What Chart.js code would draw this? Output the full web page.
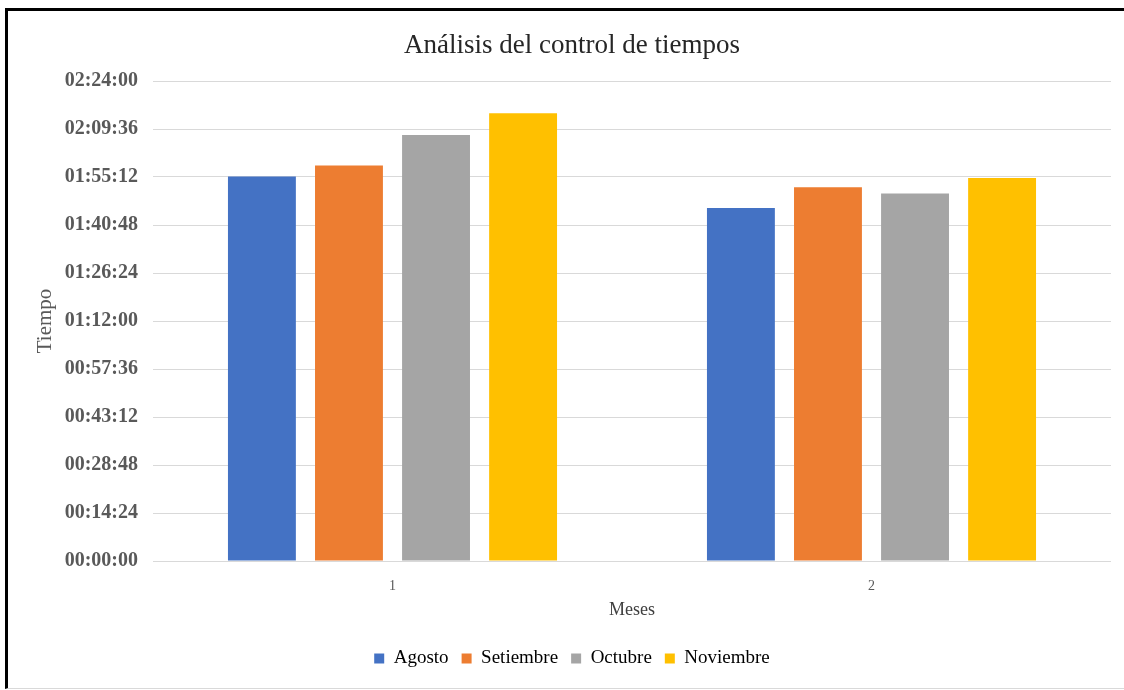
<!DOCTYPE html>
<html>
<head>
<meta charset="utf-8">
<script src="https://cdn.jsdelivr.net/npm/chart.js@4/dist/chart.umd.min.js"></script>
<style>
  body{margin:0;background:#fff;}
  #frame{position:absolute;left:5px;top:8px;width:1122px;height:677px;border-top:3px solid #000;border-left:3px solid #000;border-bottom:1px solid #d9d9d9;}
  #box{position:absolute;left:0;top:0;width:1124px;height:690px;}
</style>
</head>
<body>
<div id="frame"></div>
<div id="box"><canvas id="myChart" width="1124" height="690"></canvas></div>
<script>
// meses (categorias del eje x)
var meses = ['1', '2'];
// tiempos en segundos
var agosto = [6920, 6352];
var setiembre = [7118, 6726];
var octubre = [7666, 6617];
var noviembre = [8058, 6894];

var nombres = ['Agosto', 'Setiembre', 'Octubre', 'Noviembre'];
var colores = ['#4472C4', '#ED7D31', '#A5A5A5', '#FFC000'];
var series = [agosto, setiembre, octubre, noviembre];

function hms(s){
  var h = Math.floor(s/3600), m = Math.floor((s%3600)/60), sec = Math.round(s%60);
  return [h,m,sec].map(function(v){return (v<10?'0':'')+v;}).join(':');
}

var data = [];
for (let i=0; i<series.length; i++){
  data.push({
    label: nombres[i],
    data: series[i],
    backgroundColor: colores[i],
    borderWidth: 0,
    categoryPercentage: 0.727,
    barPercentage: 0.78
  });
}

var serif = "'Liberation Serif', 'Times New Roman', serif";
var ctx = document.getElementById('myChart');
var myChart = new Chart(ctx, {
  type: 'bar',
  data: { labels: meses, datasets: data },
  options: {
    responsive: false,
    animation: false,
    layout: { padding: { left: 33, right: 13, top: 20, bottom: 12 } },
    plugins: {
      title: {
        display: true,
        text: 'Análisis del control de tiempos',
        color: '#262626',
        font: { family: serif, size: 27, weight: 'normal' },
        padding: { top: 9.4, bottom: 19.2 }
      },
      legend: {
        position: 'bottom',
        labels: {
          color: '#000',
          font: { family: serif, size: 19 },
          boxWidth: 10,
          boxHeight: 10,
          padding: 13
        }
      },
      tooltip: { enabled: false }
    },
    scales: {
      x: {
        afterFit: function(scale){ scale.height = 75; },
        grid: { display: false, drawTicks: false },
        border: { display: false },
        ticks: { color: '#595959', font: { family: serif, size: 14 }, padding: 17 },
        title: { display: true, text: 'Meses', color: '#404040', font: { family: serif, size: 18 }, padding: { top: 0, bottom: 15 } }
      },
      y: {
        min: 0,
        max: 8640,
        afterFit: function(scale){ scale.width = 120; },
        grid: { color: '#d9d9d9', drawTicks: false },
        border: { display: false },
        ticks: {
          stepSize: 864,
          padding: 15,
          color: '#595959',
          font: { family: serif, size: 20, weight: 'bold' },
          callback: function(v){ return hms(v); }
        },
        title: { display: true, text: 'Tiempo', color: '#595959', font: { family: serif, size: 21 }, padding: 0 }
      }
    }
  }
});
</script>
</body>
</html>
